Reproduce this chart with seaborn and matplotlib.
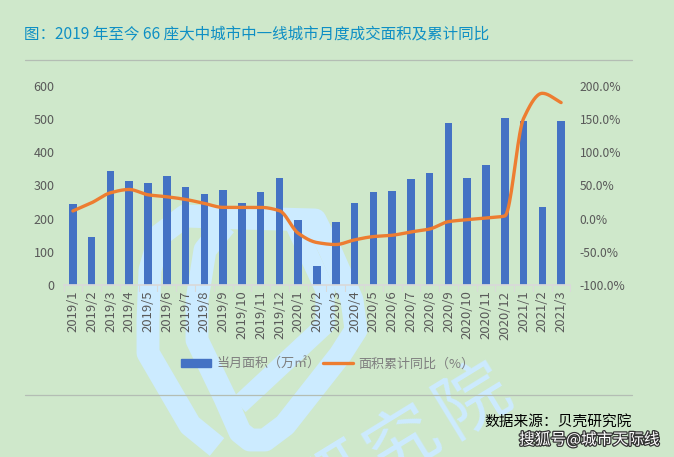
import numpy as np
import pandas as pd
import matplotlib
matplotlib.use("Agg")
import matplotlib.pyplot as plt
import matplotlib.patheffects as pe
from matplotlib.lines import Line2D
from matplotlib.patches import Patch
import seaborn as sns

months = ["2019/1", "2019/2", "2019/3", "2019/4", "2019/5", "2019/6", "2019/7", "2019/8", "2019/9",
          "2019/10", "2019/11", "2019/12", "2020/1", "2020/2", "2020/3", "2020/4", "2020/5", "2020/6",
          "2020/7", "2020/8", "2020/9", "2020/10", "2020/11", "2020/12", "2021/1", "2021/2", "2021/3"]
area = [244, 145, 344, 313, 307, 329, 295, 274, 286, 247, 280, 322, 196, 57, 190, 247, 280, 283,
        320, 338, 488, 322, 362, 503, 494, 235, 494]
yoy = [11.6, 24, 39, 44, 36, 33, 29, 23, 17, 17, 17, 12, -22, -36, -39, -32, -27, -25,
       -20, -15.6, -4.5, -1.5, 1, 4, 151, 189, 175]

BG = "#CFE8CB"
WM = "#CCEBFF"
GREY = "#595959"


def smooth(x, y, n=20):
    # smoothed line through the points, monotone so it does not dip before the 2021 jump
    x = np.asarray(x, float)
    y = np.asarray(y, float)
    d = np.diff(y) / np.diff(x)
    m = np.zeros(len(y))
    for i in range(1, len(y) - 1):
        if d[i - 1] * d[i] > 0:
            m[i] = 2 * d[i - 1] * d[i] / (d[i - 1] + d[i])
    m[0], m[-1] = d[0], d[-1]
    xs, ys = [], []
    for i in range(len(y) - 1):
        t = np.linspace(0, 1, n, endpoint=False)
        h = x[i + 1] - x[i]
        xs.append(x[i] + t * h)
        ys.append((2 * t ** 3 - 3 * t ** 2 + 1) * y[i] + (t ** 3 - 2 * t ** 2 + t) * h * m[i]
                  + (-2 * t ** 3 + 3 * t ** 2) * y[i + 1] + (t ** 3 - t ** 2) * h * m[i + 1])
    return np.r_[np.concatenate(xs), x[-1]], np.r_[np.concatenate(ys), y[-1]]


sns.set_theme(style="white")
plt.rcParams["font.family"] = ["Noto Sans CJK SC", "DejaVu Sans"]

fig = plt.figure(figsize=(6.74, 4.57), dpi=100, facecolor=BG)


def fx(px):
    return px / 674


def fy(py):
    return 1 - py / 457


# watermark behind the chart
wm_paths = [
    ([(217, 447), (190, 425), (148, 353), (148, 320), (150, 270), (160, 235), (185, 216), (240, 218), (315, 220),
      (330, 250), (352, 300), (356, 330), (340, 355), (285, 425), (265, 440), (250, 440), (240, 432),
      (225, 398), (197, 340), (197, 300), (205, 250), (225, 225)], 16.5),
    ([(295, 225), (325, 290), (325, 325), (239, 405)], 14),
]
for pts, lw in wm_paths:
    fig.add_artist(Line2D([fx(p[0]) for p in pts], [fy(p[1]) for p in pts], color=WM, lw=lw,
                          solid_joinstyle="round", solid_capstyle="butt", zorder=0))
for ch, px, py in [("研", 335, 482), ("究", 403, 443), ("院", 473, 400)]:
    fig.text(fx(px), fy(py), ch, color=WM, fontsize=52, rotation=31.5, rotation_mode="anchor",
             ha="center", va="center", zorder=0)

ax = fig.add_axes([fx(63.5), 1 - 285 / 457, 507 / 674, 199 / 457])
ax.patch.set_alpha(0)
df = pd.DataFrame({"month": months, "area": area})
sns.barplot(data=df, x="month", y="area", color="#4472C4", saturation=1, width=0.4, linewidth=0, ax=ax)
ax.set_xlim(-0.5, 26.5)
ax.set_ylim(0, 600)
ax.set_yticks(range(0, 601, 100))
ax.set_xlabel("")
ax.set_ylabel("")
ax.tick_params(axis="y", length=0, labelsize=9, labelcolor=GREY, pad=6.5)
ax.tick_params(axis="x", length=0, labelsize=9.4, labelcolor=GREY, rotation=90, pad=4)
for s in ["top", "left", "right"]:
    ax.spines[s].set_visible(False)
ax.spines["bottom"].set_color("#D9D9D9")
for i in range(28):
    ax.plot([i - 0.5, i - 0.5], [0, -17], color="#D9D9D9", lw=0.8, clip_on=False)

ax2 = ax.twinx()
sx, sy = smooth(range(len(months)), yoy)
sns.lineplot(x=sx, y=sy, color="#ED7D31", lw=2.4, ax=ax2, estimator=None, sort=False)
ax2.set_ylim(-100, 200)
ax2.set_yticks(range(-100, 201, 50))
ax2.set_yticklabels([f"{v:.1f}%" for v in range(-100, 201, 50)])
ax2.tick_params(axis="y", length=0, labelsize=8.7, labelcolor=GREY, pad=6.5)
for s in ax2.spines.values():
    s.set_visible(False)

handles = [Patch(color="#4472C4"), Line2D([0], [0], color="#ED7D31", lw=2.4)]
fig.legend(handles, ["当月面积（万㎡）", "面积累计同比（%）"], loc="center", bbox_to_anchor=(fx(328), fy(364)),
           ncol=2, frameon=False, fontsize=9.4, labelcolor="#7F7F7F", handlelength=2.3, handleheight=0.5,
           columnspacing=0.2, handletextpad=0.4)

fig.text(fx(24), fy(35), "图：2019 年至今 66 座大中城市中一线城市月度成交面积及累计同比", color="#0E8FC4",
         fontsize=11.2, va="center")
for py in [60, 395]:
    fig.add_artist(Line2D([fx(25), fx(632)], [fy(py), fy(py)], color="#B4BDB4", lw=0.9))
fig.text(fx(632), fy(422), "数据来源：贝壳研究院", color="black", fontsize=10.6, ha="right", va="center")
fig.text(fx(660), fy(440), "搜狐号@城市天际线", color="white", fontsize=11.3, ha="right", va="center",
         path_effects=[pe.withStroke(linewidth=1.8, foreground="#333333")])

fig.savefig("out.png", dpi=100, facecolor=BG)
